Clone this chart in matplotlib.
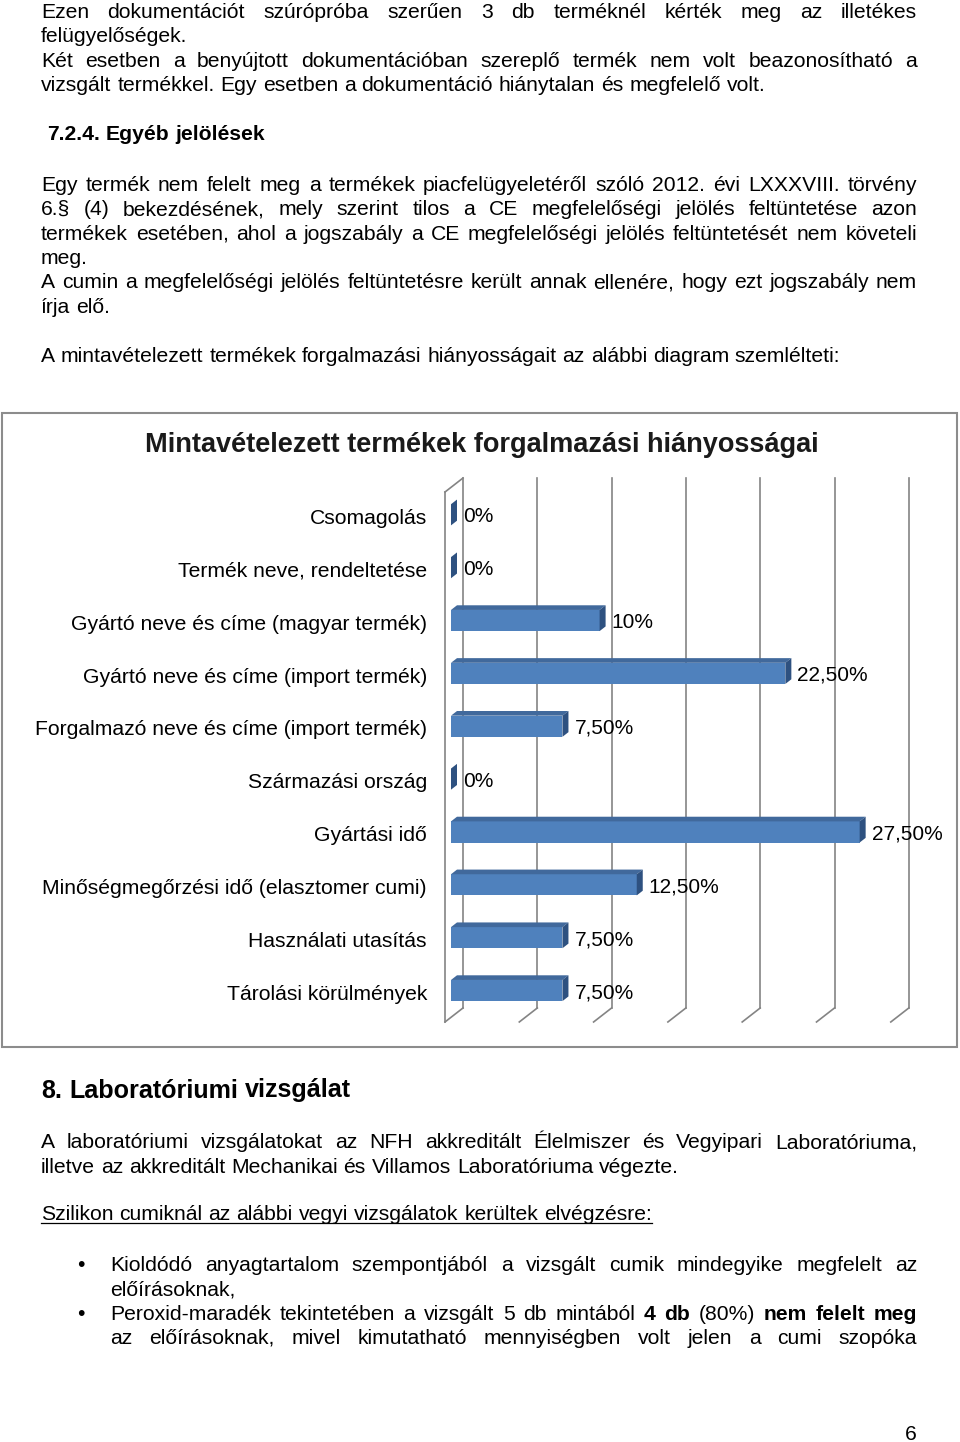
import matplotlib.pyplot as plt
from matplotlib.patches import Polygon, Rectangle
from matplotlib.lines import Line2D

plt.rcParams['font.family'] = 'Liberation Sans'

W, H = 960, 1442

# chart data
chart_title = 'Mintavételezett termékek forgalmazási hiányosságai'
categories = ['Csomagolás', 'Termék neve, rendeltetése',
              'Gyártó neve és címe (magyar termék)',
              'Gyártó neve és címe (import termék)',
              'Forgalmazó neve és címe (import termék)',
              'Származási ország', 'Gyártási idő',
              'Minőségmegőrzési idő (elasztomer cumi)',
              'Használati utasítás', 'Tárolási körülmények']
values = [0, 0, 10, 22.5, 7.5, 0, 27.5, 12.5, 7.5, 7.5]
value_labels = ['0%', '0%', '10%', '22,50%', '7,50%', '0%',
                '27,50%', '12,50%', '7,50%', '7,50%']
grid_values = [0, 5, 10, 15, 20, 25, 30]

# page text: (text, baseline px, left px, right px or None when not justified)
upper_lines = [
    ('Ezen dokumentációt szúrópróba szerűen 3 db terméknél kérték meg az illetékes', 18.3, 41, 917),
    ('felügyelőségek.', 42.5, 41, None),
    ('Két esetben a benyújtott dokumentációban szereplő termék nem volt beazonosítható a', 66.7, 41, 917),
    ('vizsgált termékkel. Egy esetben a dokumentáció hiánytalan és megfelelő volt.', 90.9, 41, None),
    ('**7.2.4. Egyéb jelölések**', 140, 47, None),
    ('Egy termék nem felelt meg a termékek piacfelügyeletéről szóló 2012. évi LXXXVIII. törvény', 190.7, 41, 917),
    ('6.§ (4) bekezdésének, mely szerint tilos a CE megfelelőségi jelölés feltüntetése azon', 215.1, 41, 917),
    ('termékek esetében, ahol a jogszabály a CE megfelelőségi jelölés feltüntetését nem követeli', 239.5, 41, 917),
    ('meg.', 263.9, 41, None),
    ('A cumin a megfelelőségi jelölés feltüntetésre került annak ellenére, hogy ezt jogszabály nem', 288.3, 41, 917),
    ('írja elő.', 312.7, 41, None),
    ('A mintavételezett termékek forgalmazási hiányosságait az alábbi diagram szemlélteti:', 361.6, 41, None),
]
lower_lines = [
    ('A laboratóriumi vizsgálatokat az NFH akkreditált Élelmiszer és Vegyipari Laboratóriuma,', 1148.5, 41, 917),
    ('illetve az akkreditált Mechanikai és Villamos Laboratóriuma végezte.', 1172.8, 41, None),
    ('Kioldódó anyagtartalom szempontjából a vizsgált cumik mindegyike megfelelt az', 1270.7, 110, 917),
    ('előírásoknak,', 1295, 110, None),
    ('Peroxid-maradék tekintetében a vizsgált 5 db mintából **4 db** (80%) **nem felelt meg**', 1319.5, 110, 917),
    ('az előírásoknak, mivel kimutatható mennyiségben volt jelen a cumi szopóka', 1344, 110, 917),
]
section_title = '8. Laboratóriumi vizsgálat'
underlined = 'Szilikon cumiknál az alábbi vegyi vizsgálatok kerültek elvégzésre:'
bullet_rows = [1270.7, 1319.5]
page_no = '6'

BODY = 15.2

fig = plt.figure(figsize=(W / 100, H / 100), dpi=100)
fig.patch.set_facecolor('white')
renderer = fig.canvas.get_renderer()


def fx(x):
    return x / W


def fy(y):
    return 1 - y / H


def text_width(s, size, weight):
    t = fig.text(0, 0, s, fontsize=size, fontweight=weight)
    w = t.get_window_extent(renderer).width
    t.remove()
    return w


def put_line(text, base, x0, x1=None, size=BODY, underline=False):
    words = []
    for k, part in enumerate(text.split('**')):
        for w in part.split():
            words.append((w, 'bold' if k % 2 else 'normal'))
    widths = [text_width(w, size, b) for w, b in words]
    if x1 is None or len(words) < 2:
        gap = text_width('a a', size, 'normal') - text_width('aa', size, 'normal')
    else:
        gap = (x1 - x0 - sum(widths)) / (len(words) - 1)
    x = x0
    for (w, b), ww in zip(words, widths):
        fig.text(fx(x), fy(base), w, fontsize=size, fontweight=b,
                 ha='left', va='baseline', color='black')
        x += ww + gap
    if underline:
        fig.add_artist(Line2D([fx(x0), fx(x - gap)], [fy(base + 2.5)] * 2,
                              color='black', lw=0.9))


for line in upper_lines + lower_lines:
    put_line(*line)
put_line('**' + section_title + '**', 1097.5, 41, None, size=18.1)
put_line(underlined, 1220, 41, None, underline=True)
for b in bullet_rows:
    fig.text(fx(80.5), fy(b), '•', fontsize=BODY, ha='center', va='baseline')
fig.text(fx(917), fy(1440), page_no, fontsize=BODY, ha='right', va='baseline')

# chart frame and title
fig.add_artist(Rectangle((fx(2), fy(1047)), (957 - 2) / W, (1047 - 413) / H,
                         transform=fig.transFigure, fill=False,
                         edgecolor='#8c8c8c', lw=1.5))
fig.text(fx(482), fy(451.7), chart_title, fontsize=19.5, fontweight='bold',
         ha='center', va='baseline', color='#1a1a1a')

# pseudo-3D bar chart
ax = fig.add_axes([fx(440), fy(1025), 475 / W, 550 / H])
ax.set_xlim(-0.740, 31.225)
ax.set_ylim(9.652, -0.753)
ax.axis('off')

dx, dy = 0.404, -0.0883       # one depth step in data units
y_top, y_bot = -0.696, 9.330  # back wall top / floor back edge
grid_c = '#848484'
for g in grid_values:
    ax.plot([g + 2 * dx, g + 2 * dx], [y_top, y_bot], color=grid_c, lw=1.2, zorder=1)
    ax.plot([g + 2 * dx, g - dx], [y_bot, y_bot - 3 * dy], color=grid_c, lw=1.2, zorder=1)
ax.plot([-dx, -dx], [y_top - 3 * dy, y_bot - 3 * dy], color=grid_c, lw=1.2, zorder=1)
ax.plot([-dx, 2 * dx], [y_top - 3 * dy, y_top], color=grid_c, lw=1.2, zorder=1)

idx = list(range(len(categories)))
hh = 0.2
ax.barh(idx, values, height=2 * hh, left=0, color='#4f81bd', zorder=3)
for i, v in zip(idx, values):
    top = [(0, i - hh), (v, i - hh), (v + dx, i - hh + dy), (dx, i - hh + dy)]
    side = [(v, i - hh), (v + dx, i - hh + dy), (v + dx, i + hh + dy), (v, i + hh)]
    ax.add_patch(Polygon(top, closed=True, facecolor='#41699c', edgecolor='none', zorder=3))
    ax.add_patch(Polygon(side, closed=True, facecolor='#2e5180', edgecolor='none', zorder=3))
for i, v, lab in zip(idx, values, value_labels):
    ax.text(v + dx + 0.4, i + 0.04, lab, fontsize=15, ha='left', va='center', zorder=4)
for i, cat in zip(idx, categories):
    ax.text(-1.615, i + 0.07, cat, fontsize=15.2, ha='right', va='center', clip_on=False)

fig.savefig('out.png', dpi=100, facecolor='white')
